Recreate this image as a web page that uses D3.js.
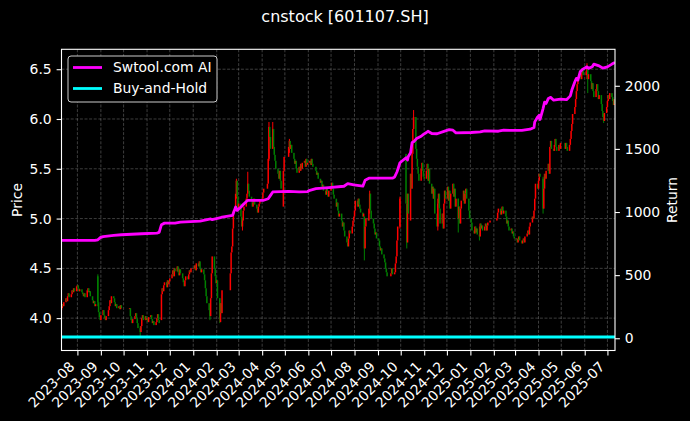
<!DOCTYPE html>
<html><head><meta charset="utf-8">
<script src="https://cdn.jsdelivr.net/npm/d3@7"></script>
<style>html,body{margin:0;padding:0;background:#000;} svg{display:block;}</style>
</head><body>
<svg id="chart" width="690" height="421"></svg>
<script>
// ---------------- DATA ----------------
const title = "cnstock [601107.SH]";
const startDate = "2023-07-11", endDate = "2025-07-11";
// exchange holidays falling on weekdays (no trading)
const holidays = ["2023-09-29","2023-10-02","2023-10-03","2023-10-04","2023-10-05","2023-10-06",
 "2024-01-01","2024-02-09","2024-02-12","2024-02-13","2024-02-14","2024-02-15","2024-02-16",
 "2024-04-04","2024-04-05","2024-05-01","2024-05-02","2024-05-03","2024-06-10",
 "2024-09-16","2024-09-17","2024-10-01","2024-10-02","2024-10-03","2024-10-04","2024-10-07",
 "2025-01-01","2025-01-28","2025-01-29","2025-01-30","2025-01-31","2025-02-03","2025-02-04",
 "2025-04-04","2025-05-01","2025-05-02","2025-05-05","2025-06-02"];
// daily closing prices, one per trading day (month by month)
const closes = [
 4.10,4.14,4.12,4.16,4.20,4.17,4.22,4.25,4.21,4.24,4.28,4.26,4.30,4.27,4.32,
 4.33,4.30,4.27,4.29,4.26,4.24,4.22,4.25,4.21,4.28,4.30,4.26,4.27,4.22,4.18,4.15,4.17,4.12,4.14,4.16,4.06,4.01,3.98,
 4.03,4.08,4.03,4.00,3.98,4.02,4.08,4.12,4.18,4.15,4.22,4.20,4.16,4.12,4.14,4.10,4.12,4.09,4.13,4.10,
 4.10,4.02,3.98,3.95,3.99,4.02,4.05,4.00,3.95,3.90,3.86,3.92,4.00,4.03,3.98,4.02,3.98,
 4.00,3.96,4.01,4.03,3.99,3.95,3.97,3.93,3.96,4.00,4.04,3.98,3.95,4.24,4.30,4.27,4.33,4.36,4.31,4.38,4.34,4.37,
 4.40,4.44,4.48,4.42,4.50,4.47,4.52,4.46,4.43,4.49,4.45,4.40,4.36,4.32,4.38,4.42,4.39,4.44,4.48,4.46,4.50,
 4.50,4.53,4.48,4.55,4.52,4.57,4.50,4.46,4.49,4.44,4.38,4.30,4.22,4.15,4.08,4.02,4.20,4.45,4.62,4.50,4.42,4.35,
 4.38,4.20,4.00,4.15,4.05,4.28,4.45,4.66,4.72,4.90,5.08,5.25,5.38,5.22,5.10,
 5.15,5.02,4.92,4.98,5.08,5.12,5.20,5.25,5.35,5.28,5.22,5.18,5.12,5.16,5.20,5.14,5.10,5.06,5.12,5.15,5.18,
 5.20,5.26,5.30,5.35,5.60,5.92,5.82,5.70,5.90,5.72,5.64,5.58,5.50,5.45,5.40,5.48,5.38,5.30,5.48,5.62,
 5.72,5.78,5.70,5.74,5.66,5.60,5.55,5.58,5.50,5.46,5.52,5.48,5.55,5.50,5.56,5.58,5.52,5.60,5.54,5.56,
 5.58,5.54,5.60,5.55,5.52,5.48,5.44,5.46,5.40,5.36,5.38,5.32,5.34,5.28,5.24,5.30,5.27,5.22,5.28,
 5.32,5.36,5.30,5.24,5.20,5.12,5.16,5.08,5.02,5.05,4.98,4.92,4.96,4.88,4.82,4.76,4.72,4.80,4.88,4.85,4.92,4.98,5.02,
 5.08,5.18,5.12,5.20,5.14,5.10,5.06,5.02,5.05,4.70,4.92,5.00,4.98,5.10,5.25,5.08,5.00,4.95,4.90,4.84,4.86,4.80,
 4.78,4.72,4.68,4.70,4.64,4.60,4.56,4.50,4.46,4.42,4.45,4.50,4.44,4.46,4.55,4.62,4.78,4.92,5.20,
 5.15,4.76,5.25,5.05,5.45,5.30,5.65,5.90,6.02,5.70,5.60,5.52,5.45,5.38,5.50,5.56,5.48,5.42,
 5.40,5.48,5.55,5.38,5.50,5.35,5.25,5.32,5.20,5.30,5.05,4.92,5.15,5.25,5.10,4.95,5.05,4.90,5.15,5.28,5.20,
 5.32,5.18,5.28,5.10,5.25,5.35,5.22,5.30,5.12,5.20,5.00,5.12,4.95,5.10,5.18,5.28,5.15,5.25,5.30,5.20,5.08,5.00,
 4.96,4.88,4.85,4.92,4.86,4.90,4.84,4.82,4.95,4.90,4.93,4.88,4.92,4.95,4.88,4.93,4.96,4.98,
 5.00,5.06,5.10,5.04,5.08,5.12,5.05,5.08,5.02,4.95,4.98,4.92,4.88,4.90,4.85,4.87,4.82,4.80,
 4.80,4.76,4.79,4.82,4.78,4.75,4.78,4.80,4.76,4.82,4.85,4.88,4.84,4.92,4.96,5.02,5.00,5.08,5.20,5.35,5.30,
 5.38,5.45,5.42,5.10,5.30,5.45,5.40,5.48,5.55,5.45,5.72,5.78,5.70,5.68,5.74,5.80,5.72,5.68,5.74,5.70,5.76,
 5.70,5.76,5.72,5.68,5.74,5.80,5.88,5.95,6.05,6.12,6.20,6.28,6.35,6.42,6.48,6.40,6.46,6.50,6.44,
 6.48,6.52,6.40,6.45,6.38,6.30,6.36,6.28,6.22,6.30,6.35,6.28,6.20,6.24,6.15,6.08,6.02,5.98,6.06,6.12,
 6.18,6.24,6.20,6.26,6.22,6.18,6.14,6.20,6.15
];
// opening prices that differ from the previous close
const openOverrides = [["2023-07-11",4.08],["2023-08-28",4.42],["2023-11-20",3.98],["2024-02-06",3.96],
 ["2024-04-29",5.12],["2024-08-14",5.02],["2024-10-08",5.65],["2024-10-14",4.98],["2025-04-07",5.40]];
// [date, high, low] for days with visible shadows
const wickOverrides = [["2023-08-28",4.44,4.12],["2023-10-23",3.92,3.82],["2024-01-23",4.10,3.98],
 ["2024-02-05",4.20,3.95],["2024-02-27",5.40,5.20],["2024-03-06",5.00,4.88],["2024-03-13",5.47,5.25],
 ["2024-04-10",5.97,5.58],["2024-04-15",5.97,5.85],["2024-05-07",5.80,5.66],["2024-08-14",5.02,4.58],
 ["2024-08-21",5.28,5.05],["2024-09-30",5.22,4.90],["2024-10-09",5.10,4.70],["2024-10-18",6.09,5.90],
 ["2024-11-19",5.20,4.88],["2024-12-16",5.20,4.86],["2025-01-13",4.92,4.78],
 ["2025-04-07",5.42,5.05],["2025-06-04",6.56,6.40],["2025-06-05",6.52,6.26],["2025-06-26",6.05,5.96]];
// Swtool.com AI return (right axis)
const aiDates = ["2023-07-11","2023-08-24","2023-08-28","2023-08-31","2023-09-04","2023-09-18","2023-09-28","2023-10-25","2023-11-14","2023-11-17","2023-11-20","2023-11-24","2023-12-08","2023-12-15","2024-01-10","2024-01-24","2024-01-26","2024-02-06","2024-02-08","2024-02-22","2024-02-26","2024-02-28","2024-03-04","2024-03-08","2024-03-13","2024-04-03","2024-04-09","2024-04-12","2024-04-15","2024-05-06","2024-05-20","2024-05-31","2024-06-03","2024-06-11","2024-06-28","2024-07-18","2024-07-23","2024-07-31","2024-08-12","2024-08-15","2024-08-20","2024-09-20","2024-09-23","2024-09-26","2024-09-30","2024-10-08","2024-10-10","2024-10-11","2024-10-14","2024-10-16","2024-10-18","2024-10-22","2024-10-28","2024-10-31","2024-11-04","2024-11-06","2024-11-11","2024-11-18","2024-11-29","2024-12-04","2024-12-09","2024-12-13","2025-01-02","2025-01-14","2025-01-20","2025-02-07","2025-02-14","2025-03-10","2025-03-21","2025-03-26","2025-03-27","2025-03-31","2025-04-02","2025-04-03","2025-04-07","2025-04-09","2025-04-11","2025-04-14","2025-04-17","2025-04-21","2025-04-30","2025-05-08","2025-05-13","2025-05-15","2025-05-19","2025-05-21","2025-05-23","2025-05-26","2025-05-29","2025-06-04","2025-06-06","2025-06-11","2025-06-13","2025-06-19","2025-06-25","2025-07-01","2025-07-07","2025-07-11"];
const aiValues = [775,775,780,797,805,815,820,828,833,838,900,912,912,920,928,945,940,955,960,974,1040,1013,1040,1066,1093,1093,1105,1132,1159,1164,1160,1162,1172,1186,1194,1204,1225,1215,1205,1252,1268,1268,1278,1317,1390,1430,1412,1440,1470,1550,1556,1582,1600,1615,1630,1640,1622,1620,1643,1652,1648,1627,1630,1635,1643,1640,1648,1646,1656,1670,1714,1754,1767,1733,1820,1870,1860,1900,1908,1886,1895,1890,1920,1966,2032,2059,2045,2111,2130,2150,2138,2151,2172,2160,2140,2150,2172,2185];
// Buy-and-Hold return (right axis)
const bhDates = ["2023-07-11","2025-07-11"];
const bhValues = [10, 10];
const priceTicks = [4.0,4.5,5.0,5.5,6.0,6.5];
const returnTicks = [0,500,1000,1500,2000];
const seriesNames = ["Swtool.com AI","Buy-and-Hold"];
const seriesColors = ["#ff00ff","#00ffff"];
const upColor = "#ff0000", downColor = "#008000";

// ---------------- CHART ----------------
const W=690,H=421, L=61.5, R=615, T=49.3, B=350.5;
const FONT = "DejaVu Sans, Liberation Sans, sans-serif";
const parse = d3.timeParse("%Y-%m-%d"), fmt = d3.timeFormat("%Y-%m-%d");
const svg = d3.select("#chart");
svg.append("rect").attr("width",W).attr("height",H).attr("fill","#000");

const x = d3.scaleTime().domain([parse(startDate), parse(endDate)]).range([L,R]);
const y = d3.scaleLinear().domain([3.675, 6.70]).range([B,T]);
const y2 = d3.scaleLinear().domain([-97, 2289]).range([B,T]);
const monthTicks = d3.timeMonth.range(d3.timeMonth.ceil(parse(startDate)), parse(endDate));

// trading days
const hol = new Set(holidays);
const days = d3.timeDay.range(parse(startDate), d3.timeDay.offset(parse(endDate),1))
  .filter(d => d.getDay()%6!==0 && !hol.has(fmt(d)));
const openMap = new Map(openOverrides), wickMap = new Map(wickOverrides.map(w=>[w[0],[w[1],w[2]]]));
const n = Math.min(days.length, closes.length);
const candles = d3.range(n).map(i=>{
  const k = fmt(days[i]);
  const o = openMap.has(k) ? openMap.get(k) : (i>0 ? closes[i-1] : closes[0]);
  const c = closes[i];
  const w = wickMap.get(k);
  return {d:days[i], o, c, h: w ? w[0] : Math.max(o,c), l: w ? w[1] : Math.min(o,c)};
});

// clip
svg.append("clipPath").attr("id","clip").append("rect").attr("x",L).attr("y",T).attr("width",R-L).attr("height",B-T);

// grid
const grid = svg.append("g").attr("stroke","#ffffff").attr("stroke-opacity",0.3)
  .attr("stroke-width",0.8).attr("stroke-dasharray","3,1.6");
grid.selectAll("line.gv").data(monthTicks).join("line").attr("class","gv")
  .attr("x1",d=>x(d)).attr("x2",d=>x(d)).attr("y1",T).attr("y2",B);
grid.selectAll("line.gh").data(priceTicks).join("line").attr("class","gh")
  .attr("x1",L).attr("x2",R).attr("y1",d=>y(d)).attr("y2",d=>y(d));

// candles
const cg = svg.append("g").attr("clip-path","url(#clip)");
const col = d => d.c >= d.o ? upColor : downColor;
cg.selectAll("line.wick").data(candles.filter(d=>wickMap.has(fmt(d.d)))).join("line").attr("class","wick")
  .attr("x1",d=>x(d.d)).attr("x2",d=>x(d.d)).attr("y1",d=>y(d.h)).attr("y2",d=>y(d.l))
  .attr("stroke",col).attr("stroke-width",1);
const bw = 1.5;
cg.selectAll("rect.body").data(candles).join("rect").attr("class","body")
  .attr("x",d=>x(d.d)-bw/2).attr("width",bw)
  .attr("y",d=>y(Math.max(d.o,d.c)))
  .attr("height",d=>Math.max(0.9, Math.abs(y(d.o)-y(d.c))))
  .attr("fill",col);

// return lines
const lg = svg.append("g").attr("clip-path","url(#clip)");
const line = d3.line().x(d=>x(d[0])).y(d=>y2(d[1]));
lg.append("path").datum(bhDates.map((d,i)=>[parse(d),bhValues[i]]))
  .attr("d",line).attr("fill","none").attr("stroke",seriesColors[1]).attr("stroke-width",2.8);
lg.append("path").datum(aiDates.map((d,i)=>[parse(d),aiValues[i]]))
  .attr("d",line).attr("fill","none").attr("stroke",seriesColors[0]).attr("stroke-width",2.8)
  .attr("stroke-linejoin","round");

// frame
svg.append("rect").attr("x",L).attr("y",T).attr("width",R-L).attr("height",B-T)
  .attr("fill","none").attr("stroke","#fff").attr("stroke-width",1.1);

// axes
function styleAxis(g){
  g.select(".domain").remove();
  g.selectAll(".tick line").attr("stroke","#fff").attr("stroke-width",1.1);
  g.selectAll(".tick text").attr("fill","#fff").attr("font-family",FONT).attr("font-size",13.9);
}
svg.append("g").attr("transform",`translate(${L},0)`)
  .call(d3.axisLeft(y).tickValues(priceTicks).tickFormat(d3.format(".1f")).tickSize(4.9).tickPadding(4.9))
  .call(styleAxis);
svg.append("g").attr("transform",`translate(${R},0)`)
  .call(d3.axisRight(y2).tickValues(returnTicks).tickFormat(d3.format("d")).tickSize(4.9).tickPadding(4.9))
  .call(styleAxis);
const xa = svg.append("g").attr("transform",`translate(0,${B})`)
  .call(d3.axisBottom(x).tickValues(monthTicks).tickFormat(d3.timeFormat("%Y-%m")).tickSize(4.9))
  .call(styleAxis);
xa.selectAll(".tick text").attr("text-anchor","end").attr("dy",null).attr("y",null)
  .attr("transform","translate(-2.5,17) rotate(-45)");

// axis labels
svg.append("text").attr("transform","translate(17,200) rotate(-90)").attr("dy","0.35em")
  .attr("text-anchor","middle").attr("fill","#fff").attr("font-family",FONT).attr("font-size",13.9).text("Price");
svg.append("text").attr("transform","translate(672,200) rotate(-90)").attr("dy","0.35em")
  .attr("text-anchor","middle").attr("fill","#fff").attr("font-family",FONT).attr("font-size",13.9).text("Return");

// title
svg.append("text").attr("x",345).attr("y",22).attr("text-anchor","middle").attr("fill","#fff")
  .attr("font-family",FONT).attr("font-size",16).text(title);

// legend
const leg = svg.append("g");
leg.append("rect").attr("x",68).attr("y",56).attr("width",149).attr("height",46).attr("rx",3)
  .attr("fill","#000").attr("stroke","#cccccc").attr("stroke-width",1);
seriesNames.forEach((s,i)=>{
  const yy = 67.5 + i*21;
  leg.append("line").attr("x1",73).attr("x2",102).attr("y1",yy).attr("y2",yy)
    .attr("stroke",seriesColors[i]).attr("stroke-width",2.8);
  leg.append("text").attr("x",113).attr("y",yy).attr("dy","0.35em").attr("fill","#fff")
    .attr("font-family",FONT).attr("font-size",13.9).text(s);
});
</script>
</body></html>
